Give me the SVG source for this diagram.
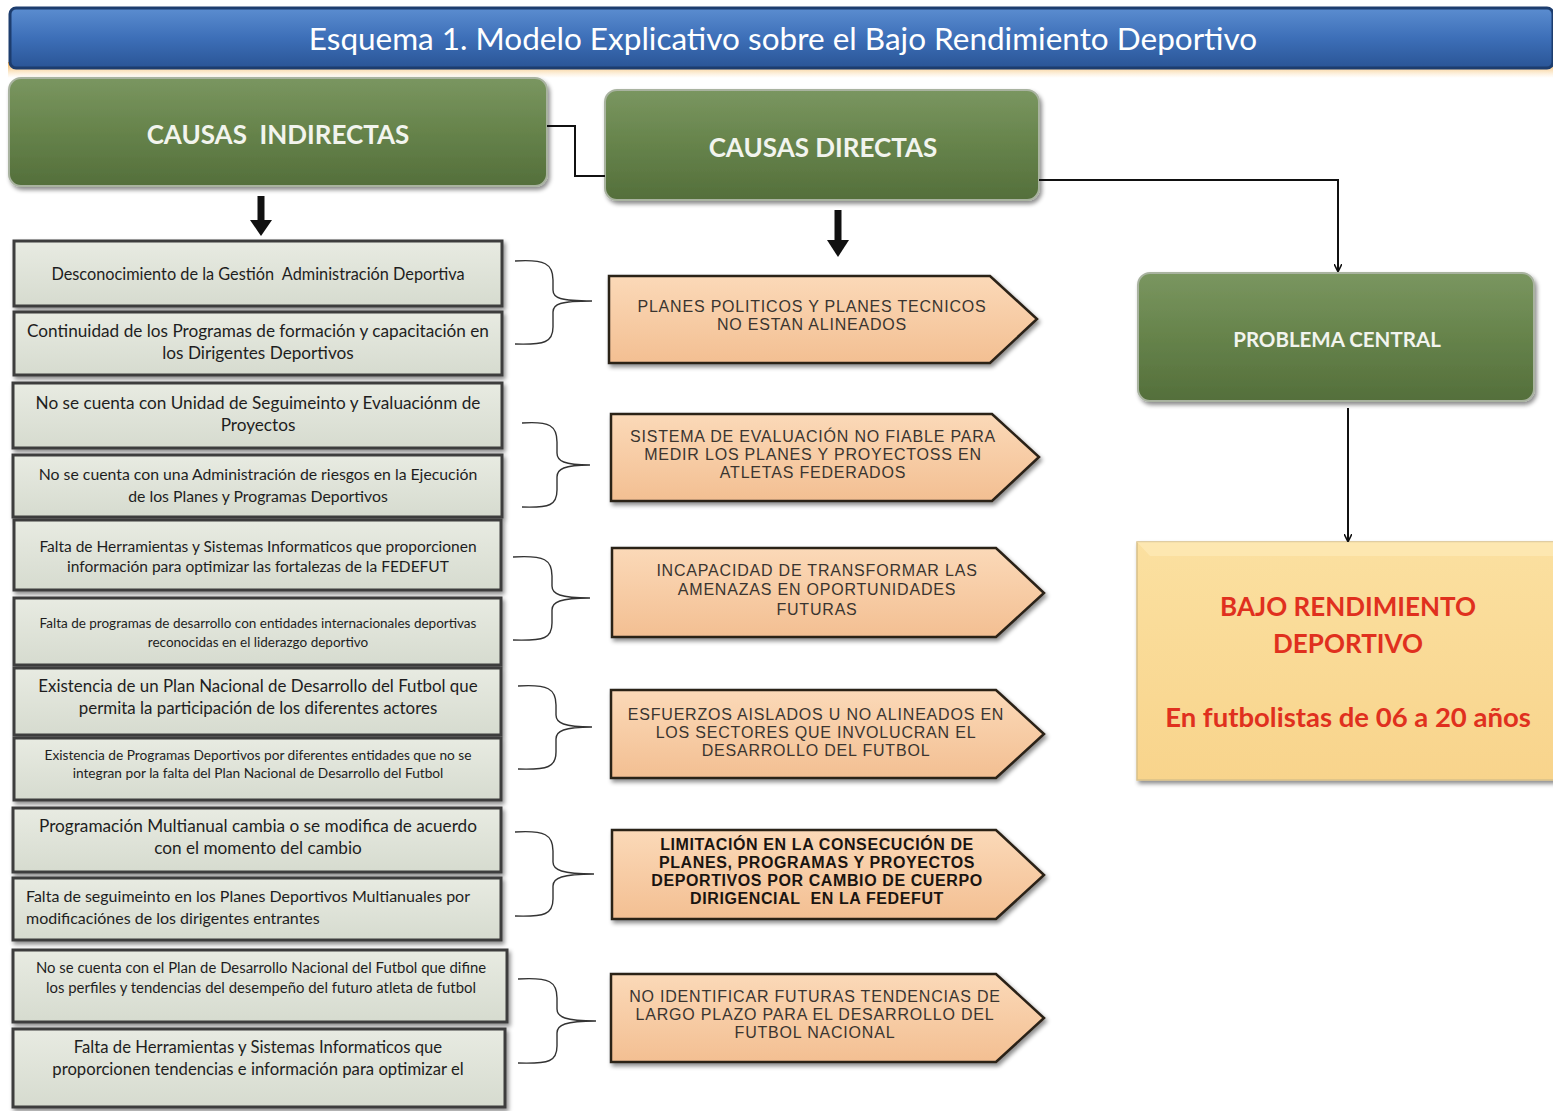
<svg xmlns="http://www.w3.org/2000/svg" width="1553" height="1111" viewBox="0 0 1553 1111">
<defs>
<linearGradient id="gBlue" x1="0" y1="0" x2="0" y2="1">
<stop offset="0" stop-color="#5b8dd0"/><stop offset="0.5" stop-color="#3d6fb8"/><stop offset="1" stop-color="#2a5596"/>
</linearGradient>
<linearGradient id="gOrange" x1="0" y1="0" x2="0" y2="1">
<stop offset="0" stop-color="#f0a030" stop-opacity="0.9"/><stop offset="1" stop-color="#f8d090" stop-opacity="0"/>
</linearGradient>
<linearGradient id="gGreen" x1="0" y1="0" x2="0" y2="1">
<stop offset="0" stop-color="#7a9660"/><stop offset="0.5" stop-color="#66834b"/><stop offset="1" stop-color="#546f3b"/>
</linearGradient>
<linearGradient id="gGray" x1="0" y1="0" x2="0" y2="1">
<stop offset="0" stop-color="#e8ebe2"/><stop offset="1" stop-color="#d6dbcf"/>
</linearGradient>
<linearGradient id="gPeach" x1="0" y1="0" x2="0" y2="1">
<stop offset="0" stop-color="#fbd9b8"/><stop offset="1" stop-color="#f3bf92"/>
</linearGradient>
<linearGradient id="gYellow" x1="0" y1="0" x2="0" y2="1">
<stop offset="0" stop-color="#fbe0a0"/><stop offset="1" stop-color="#f8d48c"/>
</linearGradient>
<filter id="sh" x="-5%" y="-5%" width="110%" height="120%">
<feDropShadow dx="2" dy="3" stdDeviation="2" flood-color="#000" flood-opacity="0.45"/>
</filter>
<marker id="ah" viewBox="0 0 10 10" refX="9" refY="5" markerWidth="8" markerHeight="8" markerUnits="userSpaceOnUse" orient="auto">
<path d="M0,0 L10,5 L0,10" fill="none" stroke="#111" stroke-width="2"/>
</marker>
</defs>
<style>
.green{fill:url(#gGreen);stroke:#a9b3a0;stroke-width:2;filter:url(#sh)}
.gt{font-family:Lato,"Open Sans",sans-serif;font-weight:bold;fill:#f2f4ee;text-anchor:middle}
.gray{fill:url(#gGray);stroke:#3c3c3c;stroke-width:3;filter:url(#sh)}
.lt{font-family:Lato,"Open Sans",sans-serif;fill:#1e1e1e;text-anchor:middle}
.ll{font-family:Lato,"Open Sans",sans-serif;fill:#1e1e1e;text-anchor:start}
.pent{fill:url(#gPeach);stroke:#2a2018;stroke-width:2.5;filter:url(#sh)}
.pt{font-family:"Liberation Sans",Arial,sans-serif;fill:#3a3530;text-anchor:middle;font-size:16px;letter-spacing:0.8px}
.pb{font-family:"Liberation Sans",Arial,sans-serif;fill:#1a1410;text-anchor:middle;font-size:16px;font-weight:bold;letter-spacing:0.6px}
.brace{fill:none;stroke:#333;stroke-width:1.4}
.conn{fill:none;stroke:#111;stroke-width:2}
.red{font-family:Lato,"Open Sans",sans-serif;font-weight:bold;fill:#e0301e;text-anchor:middle}
</style>
<rect width="1553" height="1111" fill="#ffffff"/>

<g id="title">
<rect x="8" y="62" width="1545" height="16" fill="url(#gOrange)"/>
<rect x="10" y="8" width="1543" height="60" rx="6" fill="url(#gBlue)" stroke="#1d3d6e" stroke-width="3"/>
<text x="783" y="50" font-family="Lato,'Open Sans',sans-serif" font-size="31.5" fill="#ffffff" text-anchor="middle">Esquema 1. Modelo Explicativo sobre el Bajo Rendimiento Deportivo</text>
</g>

<g id="causas-indirectas">
<rect class="green" x="9" y="78" width="538" height="108" rx="12"/>
<text class="gt" x="278" y="144" font-size="26" xml:space="preserve">CAUSAS  INDIRECTAS</text>
</g>
<g id="causas-directas">
<rect class="green" x="605" y="90" width="434" height="110" rx="12"/>
<text class="gt" x="823" y="157" font-size="26">CAUSAS DIRECTAS</text>
</g>
<g id="problema-central">
<rect class="green" x="1138" y="273" width="396" height="128" rx="12"/>
<text class="gt" x="1337" y="347" font-size="20.5">PROBLEMA CENTRAL</text>
</g>
<g id="bajo-rendimiento">
<rect x="1137" y="542" width="420" height="238" fill="url(#gYellow)" stroke="#d8c088" stroke-width="1.5" filter="url(#sh)"/>
<path d="M1137,542 L1150,556 L1553,556 L1553,542 Z" fill="#fde9b8" opacity="0.7"/>
<text class="red" x="1348" y="616" font-size="26">BAJO RENDIMIENTO</text>
<text class="red" x="1348" y="653" font-size="26">DEPORTIVO</text>
<text class="red" x="1348" y="727" font-size="27.5">En futbolistas de 06 a 20 años</text>
</g>

<g id="causas-left">
<g id="c1"><rect class="gray" x="14" y="241" width="488" height="65"/>
<text class="lt" x="258" y="280" font-size="16.3" xml:space="preserve">Desconocimiento de la Gestión  Administración Deportiva</text></g>
<g id="c2"><rect class="gray" x="14" y="312" width="488" height="63"/>
<text class="lt" x="258" y="337" font-size="17.2">Continuidad de los Programas de formación y capacitación en</text>
<text class="lt" x="258" y="359" font-size="17.2">los Dirigentes Deportivos</text></g>
<g id="c3"><rect class="gray" x="13" y="383" width="489" height="65"/>
<text class="lt" x="258" y="409" font-size="17.2">No se cuenta con Unidad de Seguimeinto y Evaluaciónm de</text>
<text class="lt" x="258" y="431" font-size="17.2">Proyectos</text></g>
<g id="c4"><rect class="gray" x="13" y="455" width="489" height="62"/>
<text class="lt" x="258" y="480" font-size="15.8">No se cuenta con una Administración de riesgos en la Ejecución</text>
<text class="lt" x="258" y="502" font-size="15.8">de los Planes y Programas Deportivos</text></g>
<g id="c5"><rect class="gray" x="14" y="520" width="487" height="70"/>
<text class="lt" x="258" y="552" font-size="15.5">Falta de Herramientas y Sistemas Informaticos que proporcionen</text>
<text class="lt" x="258" y="572" font-size="15.5">información para optimizar las fortalezas de la FEDEFUT</text></g>
<g id="c6"><rect class="gray" x="14" y="598" width="487" height="67"/>
<text class="lt" x="258" y="628" font-size="13.5">Falta de programas de desarrollo con entidades internacionales deportivas</text>
<text class="lt" x="258" y="647" font-size="13.5">reconocidas en el liderazgo deportivo</text></g>
<g id="c7"><rect class="gray" x="14" y="668" width="487" height="67"/>
<text class="lt" x="258" y="692" font-size="16.9">Existencia de un Plan Nacional de Desarrollo del Futbol que</text>
<text class="lt" x="258" y="714" font-size="16.9">permita la participación de los diferentes actores</text></g>
<g id="c8"><rect class="gray" x="14" y="738" width="487" height="62"/>
<text class="lt" x="258" y="760" font-size="13.7">Existencia de Programas Deportivos por diferentes entidades que no se</text>
<text class="lt" x="258" y="778" font-size="13.7">integran por la falta del Plan Nacional de Desarrollo del Futbol</text></g>
<g id="c9"><rect class="gray" x="13" y="808" width="488" height="64"/>
<text class="lt" x="258" y="832" font-size="17.2">Programación Multianual cambia o se modifica de acuerdo</text>
<text class="lt" x="258" y="854" font-size="17.2">con el momento del cambio</text></g>
<g id="c10"><rect class="gray" x="13" y="878" width="488" height="62"/>
<text class="ll" x="26" y="902" font-size="16">Falta de seguimeinto en los Planes Deportivos Multianuales por</text>
<text class="ll" x="26" y="924" font-size="16">modificaciónes de los dirigentes entrantes</text></g>
<g id="c11"><rect class="gray" x="13" y="950" width="494" height="72"/>
<text class="lt" x="261" y="973" font-size="14.9">No se cuenta con el Plan de Desarrollo Nacional del Futbol que difine</text>
<text class="lt" x="261" y="993" font-size="14.9">los perfiles y tendencias del desempeño del futuro atleta de futbol</text></g>
<g id="c12"><rect class="gray" x="13" y="1029" width="492" height="78"/>
<text class="lt" x="258" y="1053" font-size="16.7">Falta de Herramientas y Sistemas Informaticos que</text>
<text class="lt" x="258" y="1075" font-size="16.7">proporcionen tendencias e información para optimizar el</text></g>
</g>

<g id="causas-directas-list">
<g id="d1"><path class="pent" d="M609,276 L990,276 L1037,319 L990,363 L609,363 Z"/>
<text class="pt" x="812" y="312">PLANES POLITICOS Y PLANES TECNICOS</text>
<text class="pt" x="812" y="330">NO ESTAN ALINEADOS</text></g>
<g id="d2"><path class="pent" d="M611,414 L992,414 L1039,457 L992,501 L611,501 Z"/>
<text class="pt" x="813" y="442">SISTEMA DE EVALUACIÓN NO FIABLE PARA</text>
<text class="pt" x="813" y="460">MEDIR LOS PLANES Y PROYECTOSS EN</text>
<text class="pt" x="813" y="478">ATLETAS FEDERADOS</text></g>
<g id="d3"><path class="pent" d="M612,548 L996,548 L1044,593 L996,637 L612,637 Z"/>
<text class="pt" x="817" y="576">INCAPACIDAD DE TRANSFORMAR LAS</text>
<text class="pt" x="817" y="595">AMENAZAS EN OPORTUNIDADES</text>
<text class="pt" x="817" y="615">FUTURAS</text></g>
<g id="d4"><path class="pent" d="M611,690 L996,690 L1044,734 L996,778 L611,778 Z"/>
<text class="pt" x="816" y="720">ESFUERZOS AISLADOS U NO ALINEADOS EN</text>
<text class="pt" x="816" y="738">LOS SECTORES QUE INVOLUCRAN EL</text>
<text class="pt" x="816" y="756">DESARROLLO DEL FUTBOL</text></g>
<g id="d5"><path class="pent" d="M612,830 L996,830 L1044,875 L996,919 L612,919 Z"/>
<text class="pb" x="817" y="850">LIMITACIÓN EN LA CONSECUCIÓN DE</text>
<text class="pb" x="817" y="868">PLANES, PROGRAMAS Y PROYECTOS</text>
<text class="pb" x="817" y="886">DEPORTIVOS POR CAMBIO DE CUERPO</text>
<text class="pb" x="817" y="904" xml:space="preserve">DIRIGENCIAL  EN LA FEDEFUT</text></g>
<g id="d6"><path class="pent" d="M611,974 L996,974 L1044,1018 L996,1062 L611,1062 Z"/>
<text class="pt" x="815" y="1002">NO IDENTIFICAR FUTURAS TENDENCIAS DE</text>
<text class="pt" x="815" y="1020">LARGO PLAZO PARA EL DESARROLLO DEL</text>
<text class="pt" x="815" y="1038">FUTBOL NACIONAL</text></g>
</g>

<g id="connectors">
<polyline class="conn" points="547,126 575,126 575,176 605,176"/>
<polyline class="conn" points="1039,180 1338,180 1338,271" marker-end="url(#ah)"/>
<line class="conn" x1="1348" y1="408" x2="1348" y2="541" marker-end="url(#ah)"/>
<line x1="261" y1="196" x2="261" y2="222" stroke="#111" stroke-width="7"/>
<path d="M250,220 L272,220 L261,236 Z" fill="#111"/>
<line x1="838" y1="210" x2="838" y2="242" stroke="#111" stroke-width="7"/>
<path d="M827,240 L849,240 L838,257 Z" fill="#111"/>
<path class="brace" d="M515,261 C545,259 553,264 553,280 L553,290 C553,298 560,301 592,301 C560,301 553,304 553,312 L553,327 C553,342 545,345 515,344"/>
<path class="brace" d="M522,423 C550,421 557,426 557,442 L557,453 C557,461 564,465 590,465 C564,465 557,469 557,477 L557,490 C557,505 550,508 522,507"/>
<path class="brace" d="M513,557 C545,555 552,560 552,576 L552,586 C552,594 560,598 590,598 C560,598 552,602 552,610 L552,623 C552,638 545,641 513,640"/>
<path class="brace" d="M518,686 C548,684 556,689 556,705 L556,715 C556,723 564,727 592,727 C564,727 556,731 556,739 L556,752 C556,767 548,770 518,769"/>
<path class="brace" d="M515,832 C545,830 553,835 553,851 L553,862 C553,870 562,874 594,874 C562,874 553,878 553,886 L553,899 C553,914 545,917 515,916"/>
<path class="brace" d="M518,979 C550,977 557,982 557,998 L557,1009 C557,1017 565,1021 596,1021 C565,1021 557,1025 557,1033 L557,1046 C557,1061 550,1064 518,1063"/>
</g>
</svg>
